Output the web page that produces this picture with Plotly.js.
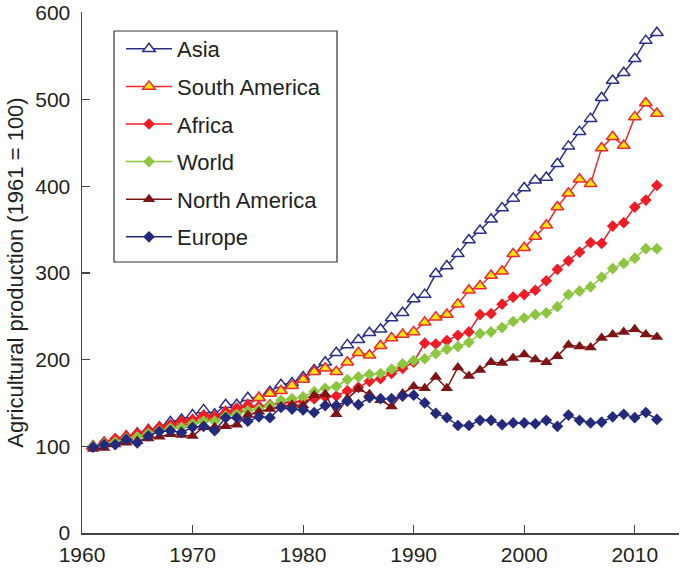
<!DOCTYPE html>
<html>
<head>
<meta charset="utf-8">
<script src="https://cdn.plot.ly/plotly-3.0.1.min.js"></script>
<style>html,body{margin:0;padding:0;background:#fff;}#chart{width:680px;height:568px;}</style>
</head>
<body>
<div id="chart"></div>
<script>
var years = [];
for (var y = 1961; y <= 2012; y++) years.push(y);

var asia = [100,104,107,111,115,119,122,128,131,136,
  142,137,148,148,156,156,163,171,173,180,
  188,197,208,217,223,231,235,248,254,270,
  275,299,308,322,338,349,362,375,386,398,
  407,410,426,446,463,478,502,522,531,547,
  568,577];
var southAmerica = [100,104,108,112,114,118,122,124,128,130,
  135,134,140,143,148,156,161,164,170,177,
  186,190,186,197,208,205,216,225,229,232,
  243,249,252,264,280,285,297,302,322,329,
  342,355,376,392,408,403,444,457,447,480,
  496,484];
var africa = [100,105,109,111,115,118,122,125,129,131,
  136,134,139,144,146,146,148,150,151,152,
  155,157,158,164,168,175,178,184,190,197,
  219,218,222,228,232,252,253,264,272,275,
  280,291,304,314,324,335,334,354,358,376,
  384,401];
var world = [100,103,105,109,111,115,118,121,122,126,
  129,129,135,137,141,143,147,153,155,157,
  163,167,169,177,180,183,184,189,195,199,
  201,207,212,215,220,230,232,237,244,248,
  252,254,261,275,279,284,295,305,311,317,
  328,328];
var northAmerica = [97,98,102,104,106,109,111,114,113,112,
  122,122,123,125,136,140,143,146,148,147,
  159,160,137,155,166,160,153,146,161,169,
  167,180,167,191,181,188,197,196,202,206,
  200,197,204,217,215,214,225,229,232,235,
  229,226];
var europe = [99,102,102,108,104,112,117,118,116,122,
  123,118,133,133,129,134,133,145,143,142,
  139,147,147,152,148,156,155,155,158,159,
  150,138,133,124,124,130,130,125,127,127,
  126,130,123,136,130,127,128,134,137,133,
  139,131];

var names = ['Asia','South America','Africa','World','North America','Europe'];
var xTicks = [1960,1970,1980,1990,2000,2010];
var yTicks = [0,100,200,300,400,500,600];

function tr(name, vals, lineColor, sym, size, fill, mlineColor, mlineW) {
  return {
    x: years, y: vals, name: name, type: 'scatter', mode: 'lines+markers',
    legendgroup: name,
    line: {color: lineColor, width: 1.5},
    marker: {symbol: sym, size: size, color: fill, line: {color: mlineColor, width: mlineW}}
  };
}

var data = [
  tr(names[0], asia, '#2b2f86', 'triangle-up', 11, '#ffffff', '#2b2f86', 1.5),
  tr(names[1], southAmerica, '#ee2a2e', 'triangle-up', 11, '#ffe312', '#ee2a2e', 1.5),
  tr(names[2], africa, '#ee1c25', 'diamond', 9, '#ee1c25', '#ee1c25', 0),
  tr(names[3], world, '#8cc63f', 'diamond', 9, '#8cc63f', '#8cc63f', 0),
  tr(names[4], northAmerica, '#7f1416', 'triangle-up', 11, '#7f1416', '#7f1416', 0),
  tr(names[5], europe, '#232a7c', 'diamond', 9, '#232a7c', '#232a7c', 0)
];

var fontFam = '"Liberation Sans", Arial, sans-serif';
var mB = 35;
var plotL = 82, plotT = 12, plotW = 680 - 82 - 1, plotH = 568 - 12 - mB;
function px2x(p) { return (p - plotL) / plotW; }
function py2y(p) { return (plotT + plotH - p) / plotH; }

var layout = {
  width: 680, height: 568,
  margin: {l: 82, r: 1, t: 12, b: mB},
  paper_bgcolor: '#ffffff', plot_bgcolor: '#ffffff',
  font: {family: fontFam, size: 22, color: '#231f20'},
  showlegend: true,
  legend: {
    x: px2x(121), y: py2y(28), xanchor: 'left', yanchor: 'top',
    borderwidth: 0, bgcolor: 'rgba(0,0,0,0)',
    font: {family: fontFam, size: 22, color: '#231f20'},
    traceorder: 'grouped', tracegroupgap: 6, itemwidth: 46
  },
  shapes: [{
    type: 'rect', xref: 'paper', yref: 'paper', layer: 'above',
    x0: px2x(114), x1: px2x(337), y0: py2y(262), y1: py2y(31),
    line: {color: '#333333', width: 1.2}, fillcolor: '#ffffff'
  }],
  xaxis: {
    range: [1960, 2014], tickvals: xTicks,
    ticks: 'inside', ticklen: 8, tickwidth: 1.2, tickcolor: '#444',
    showline: true, linecolor: '#444', linewidth: 1.5,
    showgrid: false, zeroline: false,
    tickfont: {size: 21}, ticklabelstandoff: 2
  },
  yaxis: {
    range: [0, 601], tickvals: yTicks,
    ticks: 'inside', ticklen: 8, tickwidth: 1.2, tickcolor: '#444',
    showline: true, linecolor: '#444', linewidth: 1.5,
    showgrid: false, zeroline: false,
    tickfont: {size: 21}, ticklabelstandoff: 6,
    title: {text: 'Agricultural production (1961 = 100)', font: {size: 22}, standoff: 5}
  }
};

Plotly.newPlot('chart', data, layout, {displayModeBar: false, staticPlot: true});
</script>
</body>
</html>
